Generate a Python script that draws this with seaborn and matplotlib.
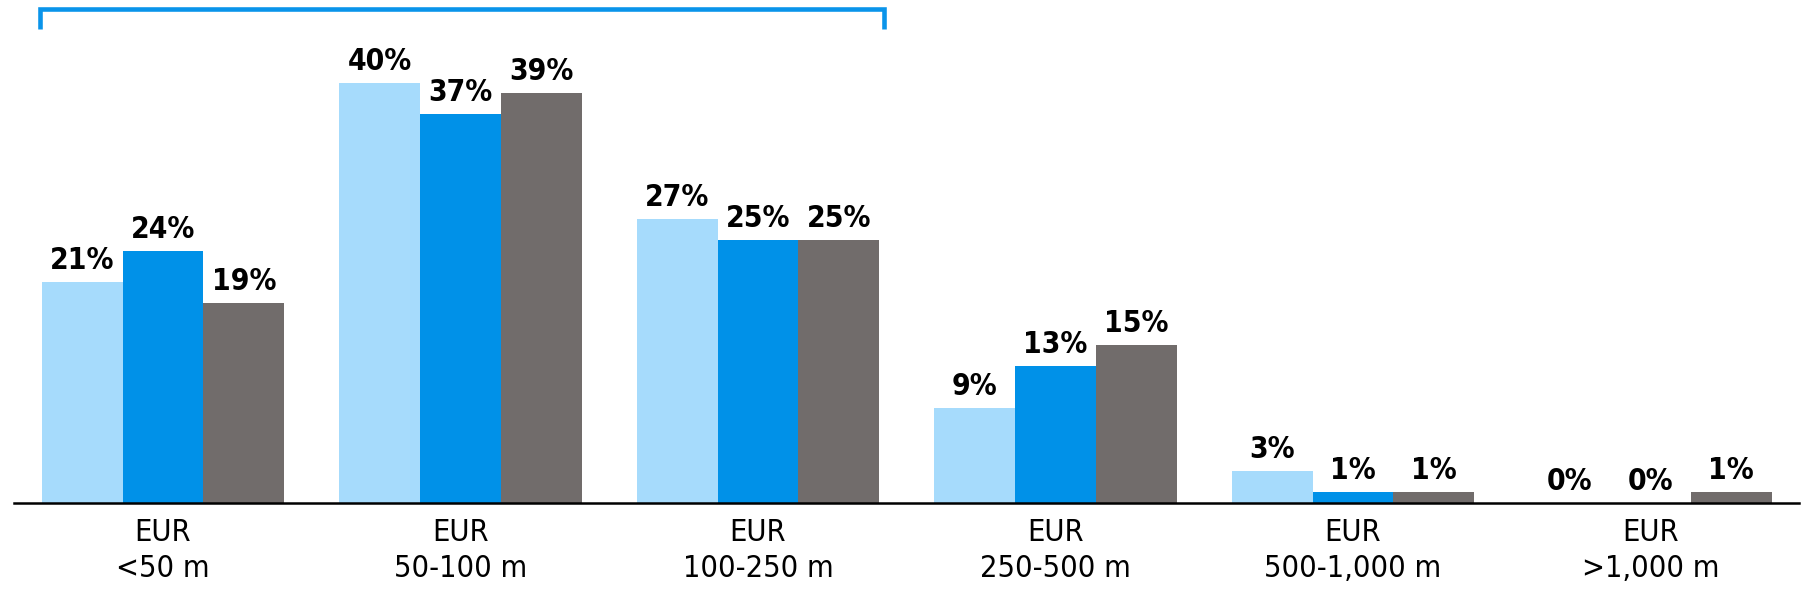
import matplotlib
matplotlib.use("Agg")
import matplotlib.pyplot as plt
import seaborn as sns
import pandas as pd

# Company size bands and the share of each group falling into them (%)
categories = ["EUR\n<50 m", "EUR\n50-100 m", "EUR\n100-250 m",
              "EUR\n250-500 m", "EUR\n500-1,000 m", "EUR\n>1,000 m"]
series_names = ["Group A", "Group B", "Group C"]
group_a = [21, 40, 27, 9, 3, 0]
group_b = [24, 37, 25, 13, 1, 0]
group_c = [19, 39, 25, 15, 1, 1]

colors = ["#A6DBFC", "#0091E8", "#716C6B"]
bracket_color = "#0A94EA"

df = pd.DataFrame({
    "category": categories * 3,
    "series": [s for s in series_names for _ in categories],
    "value": group_a + group_b + group_c,
})

sns.set_theme(style="white")
plt.rcParams["font.family"] = ["DejaVu Sans"]
plt.rcParams["font.stretch"] = "condensed"

fig = plt.figure(figsize=(18.01, 6.14), dpi=100)
ax = fig.add_axes([14.25 / 1801, 111.5 / 614, 1785 / 1801, 502.5 / 614])

bar_width = 0.815
sns.barplot(data=df, x="category", y="value", hue="series", order=categories,
            hue_order=series_names, palette=colors, width=bar_width,
            linewidth=0, saturation=1, legend=False, ax=ax)

for cont in ax.containers:
    ax.bar_label(cont, fmt="{:.0f}%", padding=5, fontsize=21.5,
                 fontweight="bold", fontstretch="condensed", color="black")

ax.set_xlim(-0.5, len(categories) - 0.5)
ax.set_ylim(0, 47.9)
ax.set_xlabel("")
ax.set_ylabel("")
ax.set_yticks([])
ax.tick_params(axis="x", length=0, pad=11, labelsize=22, labelcolor="black")
for lbl in ax.get_xticklabels():
    lbl.set_linespacing(1.3)
    lbl.set_fontstretch("condensed")

for side in ["left", "right", "top"]:
    ax.spines[side].set_visible(False)
ax.spines["bottom"].set_color("black")
ax.spines["bottom"].set_linewidth(1.8)

# Bracket spanning the first three size bands
left = 0 - bar_width / 2 - 0.005
right = 2 + bar_width / 2 + 0.015
ax.plot([left, left, right, right], [45.1, 47.0, 47.0, 45.1],
        color=bracket_color, lw=3.3, clip_on=False,
        solid_joinstyle="miter", solid_capstyle="butt")

fig.savefig("out.png", dpi=100)
